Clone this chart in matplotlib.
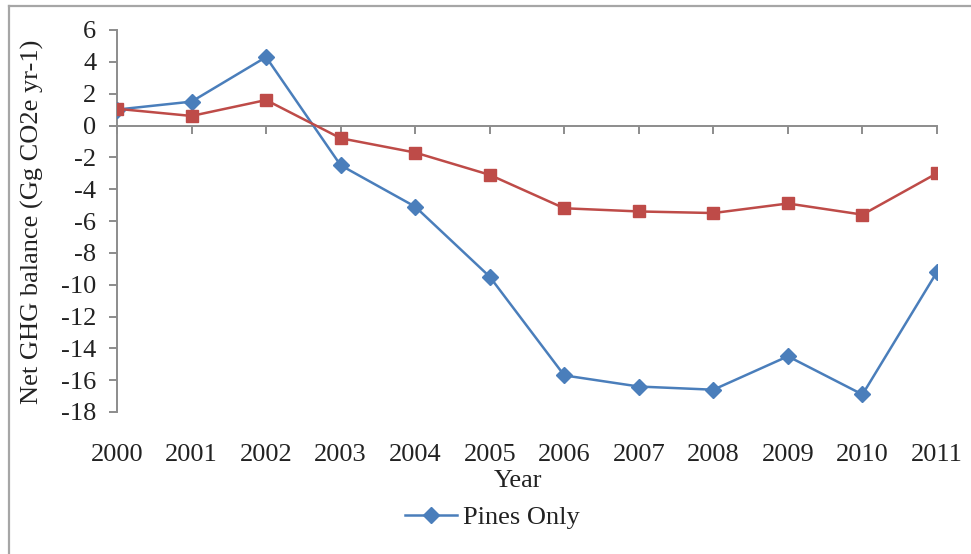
import matplotlib
matplotlib.use('Agg')
import matplotlib.pyplot as plt
from matplotlib.lines import Line2D
from matplotlib import transforms

years = ['2000', '2001', '2002', '2003', '2004', '2005',
         '2006', '2007', '2008', '2009', '2010', '2011']
pines_only = [1.0, 1.5, 4.3, -2.5, -5.1, -9.5, -15.7, -16.4, -16.6, -14.5, -16.9, -9.2]
second_series = [1.05, 0.6, 1.6, -0.8, -1.7, -3.1, -5.2, -5.4, -5.5, -4.9, -5.6, -3.0]

plt.rcParams['font.family'] = ['Liberation Serif', 'DejaVu Serif']
plt.rcParams['axes.unicode_minus'] = False

AXIS_GREY = '#8c8c8c'
TEXT = '#222222'
FS = 19

fig = plt.figure(figsize=(9.71, 5.54), dpi=100)
ax = fig.add_axes([117 / 971, 1 - 412 / 554, (937 - 117) / 971, (412 - 30) / 554])

x = list(range(len(years)))
ax.plot(x, pines_only, color='#4a7ebb', lw=1.8, marker='D', markersize=8.5,
        label='Pines Only', zorder=3)
ax.plot(x, second_series, color='#be4b48', lw=1.8, marker='s', markersize=8,
        label='_nolegend_', zorder=3)

ax.set_xlim(0, len(years) - 1)
ax.set_ylim(-18, 6)
ax.set_yticks(range(-18, 7, 2))
ax.set_xticks(x)
ax.set_xticklabels([])

# axis lines: y axis on the left, x axis crossing at zero
ax.spines['top'].set_visible(False)
ax.spines['right'].set_visible(False)
ax.spines['left'].set_color(AXIS_GREY)
ax.spines['bottom'].set_color(AXIS_GREY)
ax.spines['left'].set_linewidth(1.4)
ax.spines['bottom'].set_linewidth(1.4)
ax.spines['bottom'].set_position(('data', 0))
ax.tick_params(axis='both', direction='out', length=6, width=1.4, color=AXIS_GREY)
ax.tick_params(axis='y', labelsize=FS, labelcolor=TEXT, pad=9)

# year labels sit low, under the whole plot area
tr = transforms.blended_transform_factory(ax.transData, fig.transFigure)
for i, yr in enumerate(years):
    ax.text(i, 1 - 455 / 554, yr, transform=tr, ha='center', va='center',
            fontsize=FS, color=TEXT)

fig.text(518 / 971, 1 - 481 / 554, 'Year', ha='center', va='center',
         fontsize=FS, color=TEXT)
fig.text(32 / 971, 1 - 222 / 554, 'Net GHG balance (Gg CO2e yr-1)', rotation=90,
         ha='center', va='center', fontsize=FS, color=TEXT)

ax.legend(loc='center', bbox_to_anchor=(492 / 971, 1 - 517 / 554),
          bbox_transform=fig.transFigure, frameon=False, fontsize=FS,
          handlelength=2.0, handletextpad=0.2, labelcolor=TEXT)

# chart frame (top and left edges)
fig.add_artist(Line2D([9 / 971, 1], [1 - 6 / 554, 1 - 6 / 554],
                      transform=fig.transFigure, color='#a6a6a6', lw=1.6))
fig.add_artist(Line2D([9 / 971, 9 / 971], [0, 1 - 6 / 554],
                      transform=fig.transFigure, color='#a6a6a6', lw=1.6))

fig.savefig('out.png', dpi=100)
